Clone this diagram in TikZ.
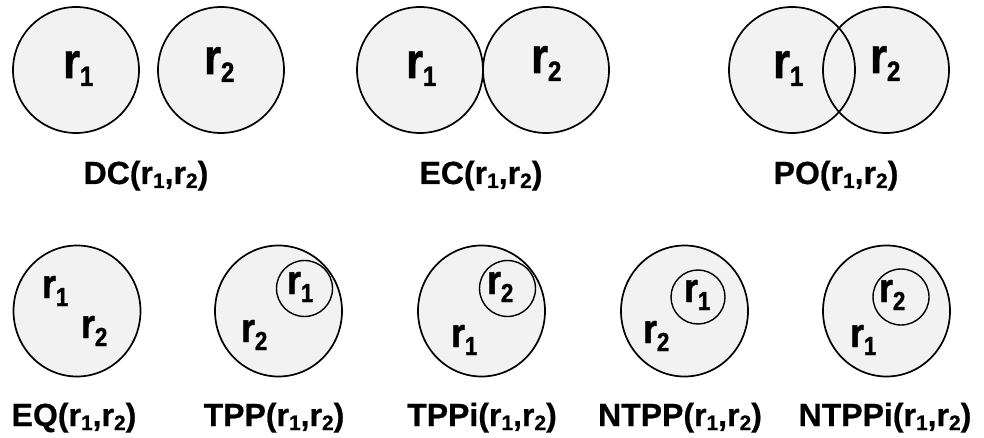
\documentclass[tikz,border=0pt]{standalone}
\usepackage{fontspec}
% heavy sans faces: a slightly narrowed one for the names inside the regions,
% a normal one for the captions
\newfontfamily\namefont{Liberation Sans Bold}[FakeStretch=0.86, FakeBold=1.2]
\newfontfamily\capfont{Liberation Sans Bold}[FakeBold=0.6]

\definecolor{regfill}{RGB}{242,242,242}

% region name with a lowered index, in three sizes
\newcommand\rbig[1]{r\raisebox{-8pt}{\fontsize{28}{28}\selectfont #1}}
\newcommand\rsmall[1]{r\raisebox{-8pt}{\fontsize{26}{26}\selectfont #1}}
\newcommand\rcap[1]{r\raisebox{-4pt}{\fontsize{21}{21}\selectfont #1}}
\newcommand\pair{(\rcap{1},\rcap{2})}

\tikzset{
  regionfill/.style={fill=regfill},
  regionline/.style={draw=black, line width=1.7pt},
  innerline/.style={draw=black, line width=1.4pt},
  bigname/.style={font=\namefont\fontsize{50}{50}\selectfont, inner sep=0pt, anchor=base west},
  smallname/.style={font=\namefont\fontsize{41}{41}\selectfont, inner sep=0pt, anchor=base west},
  caption/.style={font=\capfont\fontsize{32}{32}\selectfont, inner sep=0pt, anchor=base},
}

\begin{document}
\begin{tikzpicture}[x=1pt, y=-1pt]
\useasboundingbox (0,0) rectangle (984,438);

% ---- top row: DC, EC, PO ----
\foreach \cx in {76,221,420,546,792,886}
  \fill[regionfill] (\cx,70) circle (63pt);
\foreach \cx in {76,221,420,546,792,886}
  \draw[regionline] (\cx,70) circle (63pt);

\node[bigname] (dc1) at (63,78) {\rbig{1}};
\node[bigname] (dc2) at (204,74) {\rbig{2}};
\node[bigname] (ec1) at (406,78) {\rbig{1}};
\node[bigname] (ec2) at (531,73) {\rbig{2}};
\node[bigname] (po1) at (773,78) {\rbig{1}};
\node[bigname] (po2) at (870,73) {\rbig{2}};

\node[caption] (dc) at (146,184) {DC\pair};
\node[caption] (ec) at (481,184) {EC\pair};
\node[caption] (po) at (836,184) {PO\pair};

% ---- bottom row: EQ, TPP, TPPi, NTPP, NTPPi ----
\foreach \cx in {77,278.5,481.5,684.5,886.5}
  \draw[regionline, regionfill] (\cx,311) ellipse [x radius=63.5pt, y radius=65.5pt];

\draw[innerline, regionfill] (304.5,288.5) circle (28pt);
\draw[innerline, regionfill] (507.5,288.5) circle (28pt);
\draw[innerline, regionfill] (698,297) circle (27pt);
\draw[innerline, regionfill] (901,297) circle (28pt);

\node[smallname] (eq1) at (42,298) {\rsmall{1}};
\node[smallname] (eq2) at (81,338) {\rsmall{2}};
\node[smallname] (tpp1) at (287,294) {\rsmall{1}};
\node[smallname] (tpp2) at (241,342) {\rsmall{2}};
\node[smallname] (tppi2) at (487,294) {\rsmall{2}};
\node[smallname] (tppi1) at (451,347) {\rsmall{1}};
\node[smallname] (ntpp1) at (684,302) {\rsmall{1}};
\node[smallname] (ntpp2) at (643,343) {\rsmall{2}};
\node[smallname] (ntppi2) at (879,302) {\rsmall{2}};
\node[smallname] (ntppi1) at (850,347) {\rsmall{1}};

\node[caption] (eq) at (74,426) {EQ\pair};
\node[caption] (tpp) at (274,426) {TPP\pair};
\node[caption] (tppi) at (482,426) {TPPi\pair};
\node[caption] (ntpp) at (680,426) {NTPP\pair};
\node[caption] (ntppi) at (885,426) {NTPPi\pair};
\end{tikzpicture}
\end{document}
